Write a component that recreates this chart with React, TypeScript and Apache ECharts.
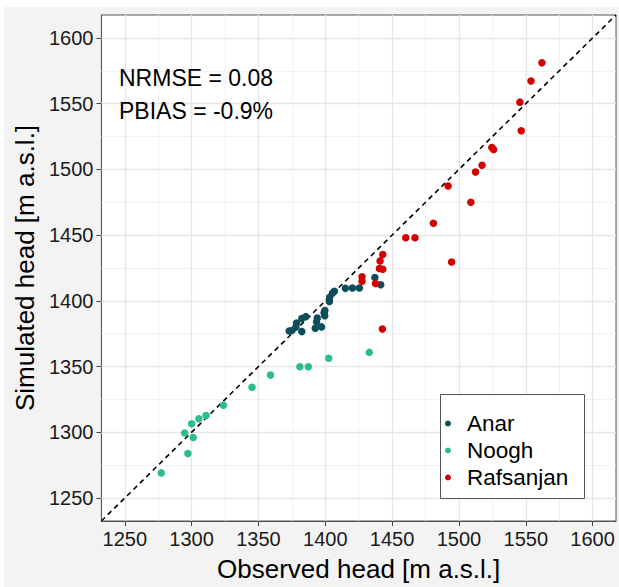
import React, { useEffect, useRef } from "react";
import * as echarts from "echarts";

const seriesNames = ["Anar", "Noogh", "Rafsanjan"];
const seriesColors = ["#0d4d59", "#2bbd8b", "#d40000"];

const anarObserved = [1373, 1375, 1378, 1378.5, 1382.4, 1382.4, 1385.4, 1392.5, 1397.2, 1393.5, 1394, 1399.6, 1399.1, 1399.7, 1403.1, 1403.3, 1405.3, 1406.8, 1415, 1420.3, 1425.5, 1437.1, 1441.5];
const anarSimulated = [1377, 1377.5, 1380.2, 1383.2, 1376.6, 1386.5, 1388, 1379.2, 1380.2, 1384.1, 1386.9, 1388.7, 1390.9, 1392.7, 1399.5, 1402.8, 1405.8, 1407.3, 1409.5, 1409.8, 1409.8, 1417.8, 1412.3];

const nooghObserved = [1277.3, 1297.2, 1294.8, 1300, 1301.2, 1305.4, 1310.8, 1323.8, 1345.2, 1359, 1381, 1387.3, 1402.6, 1432.9];
const nooghSimulated = [1269.1, 1283.9, 1299.5, 1306.5, 1296, 1310.3, 1312.8, 1320.6, 1334.2, 1343.5, 1349.8, 1349.8, 1356.3, 1360.8];

const rafsObserved = [1562.1, 1553.9, 1545.6, 1546.6, 1524.6, 1525.9, 1517.3, 1512.4, 1491.9, 1508.9, 1480.9, 1460.2, 1467.1, 1494.5, 1443, 1441, 1440.5, 1443, 1427.5, 1427.5, 1437.6, 1442.7];
const rafsSimulated = [1581.1, 1567.3, 1551.2, 1529.4, 1516.6, 1515.1, 1503.2, 1498, 1487.4, 1475, 1459, 1448, 1448, 1429.5, 1435.3, 1430.4, 1424.6, 1424, 1418.4, 1415, 1413.2, 1378.6];

const axisMin = 1232.5;
const axisMax = 1617.5;
const majorTicks = [1250, 1300, 1350, 1400, 1450, 1500, 1550, 1600];
const minorTicks = [1275, 1325, 1375, 1425, 1475, 1525, 1575];
const statLines = ["NRMSE = 0.08", "PBIAS = -0.9%"];

const FONT = "'Liberation Sans', Arial, sans-serif";

function pairs(xs: number[], ys: number[]) {
  return xs.map((x, i) => [x, ys[i]]);
}

export default function App() {
  const ref = useRef<HTMLDivElement>(null);
  useEffect(() => {
    if (!ref.current) return;
    const chart = echarts.init(ref.current, undefined, { renderer: "svg" });
    const minorStyle = { color: "#eeeeee", width: 0.8, type: "solid" };
    const majorStyle = { color: "#e6e6e6", width: 1.3, type: "solid" };
    const gridLineData = [
      ...minorTicks.map((v) => ({ xAxis: v, lineStyle: minorStyle })),
      ...minorTicks.map((v) => ({ yAxis: v, lineStyle: minorStyle })),
      ...majorTicks.map((v) => ({ xAxis: v, lineStyle: majorStyle })),
      ...majorTicks.map((v) => ({ yAxis: v, lineStyle: majorStyle })),
    ];
    const axisCommon = {
      type: "value",
      min: axisMin,
      max: axisMax,
      nameLocation: "middle",
      nameTextStyle: { fontSize: 26, color: "#000", fontFamily: FONT },
      axisLine: { show: true, lineStyle: { color: "#555", width: 1 } },
      axisTick: { show: true, length: 5, customValues: majorTicks, lineStyle: { color: "#444", width: 1 } },
      axisLabel: {
        show: true,
        customValues: majorTicks,
        margin: 8,
        fontSize: 20,
        color: "#1a1a1a",
        fontFamily: FONT,
        formatter: (v: number) => String(v),
      },
      splitLine: { show: false },
    };
    chart.setOption({
      animation: false,
      backgroundColor: "#f3f3f3",
      grid: {
        left: 92,
        top: 8,
        width: 520,
        height: 510,
        show: true,
        backgroundColor: "#ffffff",
        borderColor: "#555",
        borderWidth: 1,
      },
      xAxis: { ...axisCommon, name: "Observed head [m a.s.l.]", nameGap: 35 },
      yAxis: { ...axisCommon, name: "Simulated head [m a.s.l.]", nameGap: 60 },
      legend: {
        data: seriesNames,
        orient: "vertical",
        left: 436,
        top: 387,
        z: 60,
        itemGap: 0,
        itemWidth: 28,
        itemHeight: 6,
        padding: [16, 6, 7, 5],
        icon: "circle",
        textStyle: { fontSize: 22.5, color: "#000", fontFamily: FONT, lineHeight: 27 },
      },
      graphic: [
        {
          type: "rect",
          left: 436,
          top: 387,
          z: 50,
          shape: { width: 144, height: 104 },
          style: { fill: "#ffffff", stroke: "#555", lineWidth: 1 },
        },
        ...statLines.map((t, i) => ({
          type: "text",
          left: 115,
          top: 59 + i * 33,
          style: { text: t, fontSize: 23, fill: "#000", fontFamily: FONT },
          z: 10,
        })),
      ],
      series: [
        {
          name: "oneToOne",
          type: "line",
          data: [[axisMin, axisMin], [axisMax, axisMax]],
          symbol: "none",
          z: 2,
          silent: true,
          lineStyle: { color: "#000", width: 1.6, type: [5, 4] },
          markLine: {
            silent: true,
            z: 1,
            symbol: ["none", "none"],
            label: { show: false },
            animation: false,
            data: gridLineData,
          },
        },
        {
          name: seriesNames[0],
          type: "scatter",
          data: pairs(anarObserved, anarSimulated),
          symbolSize: 7.5,
          itemStyle: { color: seriesColors[0], opacity: 1 },
          z: 3,
        },
        {
          name: seriesNames[1],
          type: "scatter",
          data: pairs(nooghObserved, nooghSimulated),
          symbolSize: 7.5,
          itemStyle: { color: seriesColors[1], opacity: 1 },
          z: 3,
        },
        {
          name: seriesNames[2],
          type: "scatter",
          data: pairs(rafsObserved, rafsSimulated),
          symbolSize: 7.5,
          itemStyle: { color: seriesColors[2], opacity: 1 },
          z: 3,
        },
      ],
    });
    return () => chart.dispose();
  }, []);
  return (
    <div style={{ position: "absolute", left: 0, top: 0, width: 619, height: 587, background: "#ffffff" }}>
      <div ref={ref} style={{ position: "absolute", left: 4, top: 7, width: 615, height: 580 }} />
    </div>
  );
}
